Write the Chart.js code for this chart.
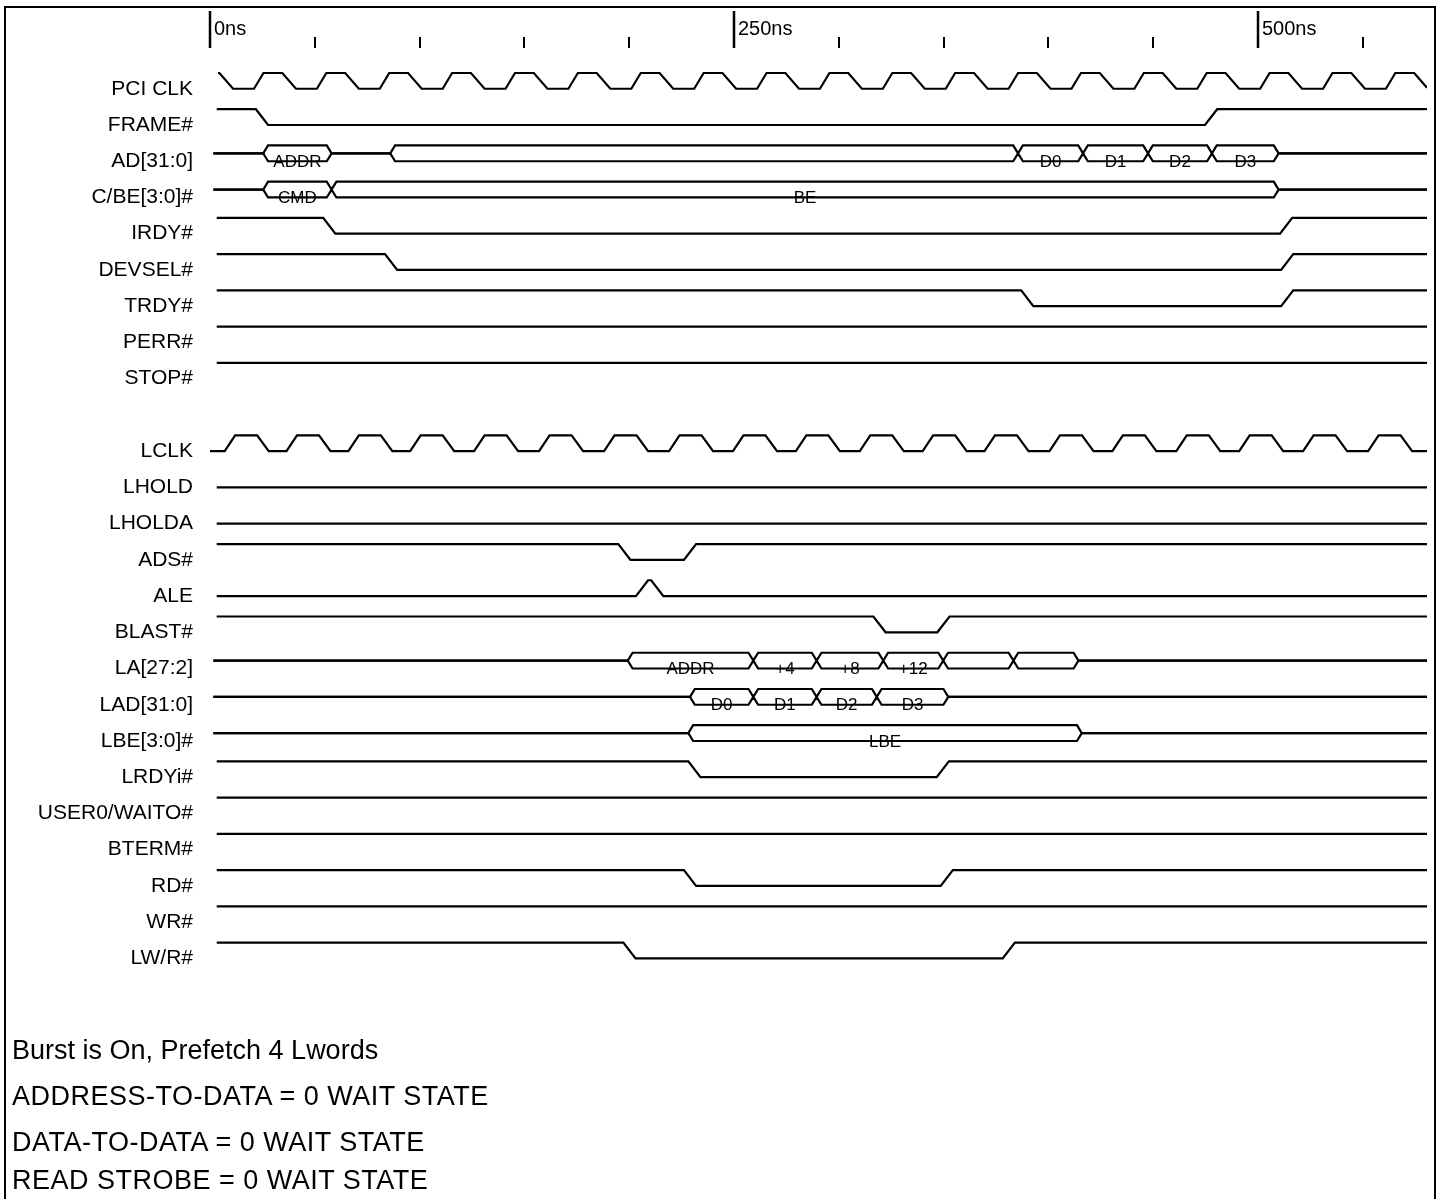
<!DOCTYPE html>
<html>
<head>
<meta charset="utf-8">
<script src="https://cdn.jsdelivr.net/npm/chart.js@4"></script>
<style>
  body { margin: 0; background: #fff; }
  #wrap { position: relative; width: 1443px; height: 1199px; overflow: hidden; }
  #frame { position: absolute; left: 4px; top: 6px; width: 1428px; height: 1300px; border: 2px solid #000; }
  #chartBox { position: absolute; left: 0; top: 0; width: 1443px; height: 1199px; }
  .note { position: absolute; left: 12px; font: 27px 'Liberation Sans', Arial, sans-serif; line-height: 27px; color: #000; white-space: nowrap; }
  .caps { letter-spacing: 0.5px; }
</style>
</head>
<body>
<div id="wrap">
  <div id="frame"></div>
  <div id="chartBox"><canvas id="timing"></canvas></div>
  <div class="note" style="top:1037px">Burst is On, Prefetch 4 Lwords</div>
  <div class="note caps" style="top:1083px">ADDRESS-TO-DATA = 0 WAIT STATE</div>
  <div class="note caps" style="top:1129px">DATA-TO-DATA = 0 WAIT STATE</div>
  <div class="note caps" style="top:1167px">READ STROBE = 0 WAIT STATE</div>
</div>
<script>
// signal rows, top to bottom ('' = empty row between the two groups)
const signalNames = ['PCI CLK', 'FRAME#', 'AD[31:0]', 'C/BE[3:0]#', 'IRDY#', 'DEVSEL#', 'TRDY#', 'PERR#', 'STOP#', '',
  'LCLK', 'LHOLD', 'LHOLDA', 'ADS#', 'ALE', 'BLAST#', 'LA[27:2]', 'LAD[31:0]', 'LBE[3:0]#', 'LRDYi#',
  'USER0/WAITO#', 'BTERM#', 'RD#', 'WR#', 'LW/R#'];

// time ruler (ns)
const majorTicks = [0, 250, 500];
const majorLabels = ['0ns', '250ns', '500ns'];
const minorTicks = [50, 100, 150, 200, 300, 350, 400, 450, 550];

// clocks: times (ns) where each rising edge reaches high
const pciClkHigh = [-4.5, 25.5, 55.5, 85.5, 115.5, 145.5, 175.5, 205.5, 235.5, 265.5, 295.5, 325.5,
  355.5, 385.5, 415.5, 445.5, 475.5, 505.5, 535.5, 565.5];
const lclkHigh = [12, 41.5, 71, 100.5, 131, 162, 193, 224, 254.5, 284.5, 315, 345, 374.5,
  405.5, 435.5, 466, 496, 526.5, 557.5];

// single signals: [time, level] ; first pair = start, then edge start times (1 high, 0 low)
const frame  = [[3.2, 1], [21.9, 0], [474.7, 1]];
const irdy   = [[3.2, 1], [54, 0], [510.5, 1]];
const devsel = [[3.2, 1], [83.5, 0], [511, 1]];
const trdy   = [[3.2, 1], [387, 0], [511, 1]];
const perr   = [[3.2, 1]];
const stop   = [[3.2, 1]];
const lhold  = [[3.2, 0]];
const lholda = [[3.2, 0]];
const ads    = [[3.2, 1], [194.8, 0], [226.1, 1]];
const ale    = [[3.2, 0], [203.2, 1], [210.5, 0]];
const blast  = [[3.2, 1], [316.5, 0], [347, 1]];
const lrdyi  = [[3.2, 1], [228.2, 0], [346.7, 1]];
const user0  = [[3.2, 1]];
const bterm  = [[3.2, 1]];
const rd     = [[3.2, 1], [226.1, 0], [348.6, 1]];
const wr     = [[3.2, 1]];
const lwr    = [[3.2, 1], [197.2, 0], [378.2, 1]];

// buses: [from, to, label] (ns), tri-state in between
const adBus  = [[25.4, 58, 'ADDR'], [86, 385.5, ''], [385.5, 416.5, 'D0'], [416.5, 447.5, 'D1'], [447.5, 478, 'D2'], [478, 509.8, 'D3']];
const cbeBus = [[25.4, 58, 'CMD'], [58, 509.8, 'BE']];
const laBus  = [[199.3, 259.2, 'ADDR'], [259.2, 289.4, '+4'], [289.4, 321.2, '+8'], [321.2, 349.8, '+12'], [349.8, 383.3, ''], [383.3, 414.3, '']];
const ladBus = [[229, 259.2, 'D0'], [259.2, 289.4, 'D1'], [289.4, 318.1, 'D2'], [318.1, 352.2, 'D3']];
const lbeBus = [[228.2, 415.9, 'LBE']];

const T_END = 580.6;
const ROW_PX = 36.75;
const HI = 16 / ROW_PX;
const FONT = "'Liberation Sans', Arial, Helvetica, sans-serif";

const row = name => signalNames.indexOf(name);
const lvl = (r, v) => r - v * HI;

function clip(pts, a, b) {
  const out = [];
  for (let i = 0; i < pts.length; i++) {
    const p = pts[i], q = pts[i + 1];
    if (p.x >= a && p.x <= b) out.push(p);
    if (!q) break;
    [a, b].forEach(c => {
      if ((p.x < c && q.x > c)) {
        const k = (c - p.x) / (q.x - p.x);
        out.push({ x: c, y: p.y + k * (q.y - p.y) });
      }
    });
  }
  return out;
}

function digitalPts(r, edges, edge) {
  let [t0, cur] = edges[0];
  const pts = [{ x: t0, y: lvl(r, cur) }];
  for (let i = 1; i < edges.length; i++) {
    const [t, v] = edges[i];
    pts.push({ x: t, y: lvl(r, cur) }, { x: t + edge, y: lvl(r, v) });
    cur = v;
  }
  pts.push({ x: T_END, y: lvl(r, cur) });
  return pts;
}

function clockPts(r, highs, start, rise, high, fall) {
  const pts = [{ x: highs[0] - rise - 50, y: lvl(r, 0) }];
  highs.forEach(h => {
    pts.push({ x: h - rise, y: lvl(r, 0) }, { x: h, y: lvl(r, 1) },
      { x: h + high, y: lvl(r, 1) }, { x: h + high + fall, y: lvl(r, 0) });
  });
  pts.push({ x: T_END + 50, y: lvl(r, 0) });
  return clip(pts, start, T_END);
}

function busPts(r, segs, start, h) {
  const top = lvl(r, 1), bot = lvl(r, 0), mid = (top + bot) / 2;
  const up = [{ x: start, y: mid }], dn = [{ x: start, y: mid }];
  segs.forEach(([a, b], i) => {
    const prev = segs[i - 1], next = segs[i + 1];
    if (!prev || prev[1] !== a) {
      up.push({ x: a, y: mid }, { x: a + h, y: top });
      dn.push({ x: a, y: mid }, { x: a + h, y: bot });
    }
    up.push({ x: b - h, y: top }, { x: b, y: mid });
    dn.push({ x: b - h, y: bot }, { x: b, y: mid });
    if (next && next[0] === b) {
      up.push({ x: b + h, y: top });
      dn.push({ x: b + h, y: bot });
    }
  });
  up.push({ x: T_END, y: mid });
  dn.push({ x: T_END, y: mid });
  return [up, dn];
}

const waves = [];
waves.push(clockPts(row('PCI CLK'), pciClkHigh, 3.8, 4.5, 9, 6.5));
waves.push(clockPts(row('LCLK'), lclkHigh, 0, 5, 10.5, 5.5));
[['FRAME#', frame], ['IRDY#', irdy], ['DEVSEL#', devsel], ['TRDY#', trdy], ['PERR#', perr], ['STOP#', stop],
 ['LHOLD', lhold], ['LHOLDA', lholda], ['ADS#', ads], ['ALE', ale], ['BLAST#', blast], ['LRDYi#', lrdyi],
 ['USER0/WAITO#', user0], ['BTERM#', bterm], ['RD#', rd], ['WR#', wr], ['LW/R#', lwr]]
  .forEach(([n, e]) => waves.push(digitalPts(row(n), e, 5.8)));

const buses = [['AD[31:0]', adBus], ['C/BE[3:0]#', cbeBus], ['LA[27:2]', laBus], ['LAD[31:0]', ladBus], ['LBE[3:0]#', lbeBus]];
buses.forEach(([n, s]) => waves.push(...busPts(row(n), s, 1.6, 2.3)));

const datasets = waves.map(d => ({
  data: d, borderColor: '#000', borderWidth: 2.2, pointRadius: 0, fill: false, tension: 0
}));

const ruler = {
  id: 'ruler',
  afterDraw(chart) {
    const { ctx } = chart;
    const x = chart.scales.x;
    ctx.save();
    ctx.strokeStyle = '#000';
    ctx.fillStyle = '#000';
    ctx.lineWidth = 2;
    minorTicks.forEach(t => {
      const px = Math.round(x.getPixelForValue(t));
      ctx.beginPath(); ctx.moveTo(px, 37); ctx.lineTo(px, 48); ctx.stroke();
    });
    ctx.lineWidth = 2.5;
    ctx.font = '20px ' + FONT;
    ctx.textBaseline = 'middle';
    ctx.textAlign = 'left';
    majorTicks.forEach((t, i) => {
      const px = Math.round(x.getPixelForValue(t));
      ctx.beginPath(); ctx.moveTo(px, 11); ctx.lineTo(px, 48); ctx.stroke();
      ctx.fillText(majorLabels[i], px + 4, 29);
    });
    ctx.restore();
  }
};

const busLabels = {
  id: 'busLabels',
  afterDatasetsDraw(chart) {
    const { ctx } = chart;
    const x = chart.scales.x, y = chart.scales.y;
    ctx.save();
    ctx.fillStyle = '#000';
    ctx.font = '17px ' + FONT;
    ctx.textAlign = 'center';
    ctx.textBaseline = 'middle';
    buses.forEach(([n, segs]) => {
      segs.forEach(([a, b, label]) => {
        if (label) ctx.fillText(label, x.getPixelForValue((a + b) / 2), y.getPixelForValue(row(n)) + 1);
      });
    });
    ctx.restore();
  }
};

const PAD_TOP = 24, PAD_BOTTOM = 19;
const yMin = -(84 - PAD_TOP) / ROW_PX;
const yMax = yMin + (1199 - PAD_TOP - PAD_BOTTOM) / ROW_PX;

new Chart(document.getElementById('timing'), {
  type: 'line',
  data: { datasets: datasets },
  plugins: [ruler, busLabels],
  options: {
    responsive: true,
    maintainAspectRatio: false,
    animation: false,
    events: [],
    layout: { padding: { top: PAD_TOP, bottom: PAD_BOTTOM, left: 0, right: 16 } },
    plugins: { legend: { display: false }, tooltip: { enabled: false } },
    scales: {
      x: { type: 'linear', min: 0, max: T_END, display: false },
      y: {
        type: 'linear',
        reverse: true,
        min: yMin,
        max: yMax,
        afterFit: s => { s.width = 210; },
        afterBuildTicks: s => {
          s.ticks = signalNames.map((n, i) => ({ value: i })).filter(t => signalNames[t.value]);
        },
        grid: { display: false, drawTicks: false },
        border: { display: false },
        ticks: {
          autoSkip: false,
          padding: 17,
          color: '#000',
          font: { family: FONT, size: 21 },
          callback: v => signalNames[v]
        }
      }
    }
  }
});
</script>
</body>
</html>
